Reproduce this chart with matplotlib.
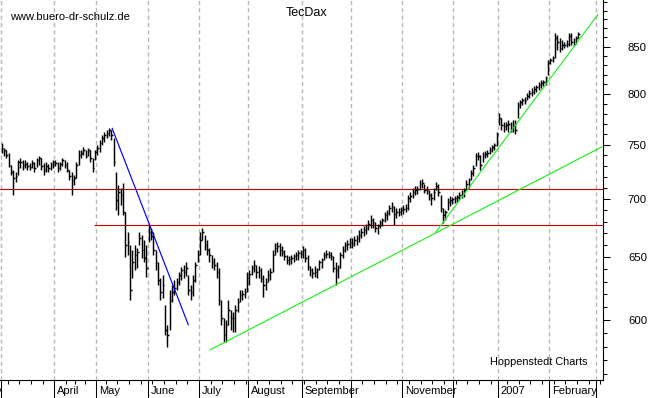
import numpy as np
import pandas as pd
import matplotlib
matplotlib.use("Agg")
import matplotlib.pyplot as plt
from matplotlib.transforms import blended_transform_factory, ScaledTranslation
from matplotlib.ticker import FixedLocator, NullFormatter, FixedFormatter

plt.rcParams['font.family'] = ['Liberation Sans', 'DejaVu Sans']

# ---------------- data (TecDax daily bars, Mar 2006 - Feb 2007) ----------------
highs = [
    751.7, 747.0, 745.1, 742.3, 731.0, 726.3, 724.5, 735.6, 737.5, 735.6,
    735.6, 733.7, 732.8, 735.6, 733.7, 737.5, 739.4, 737.5, 732.8, 733.7,
    731.9, 733.7, 735.6, 735.6, 733.7, 733.7, 737.5, 735.6, 733.7, 726.3,
    724.5, 721.7, 733.7, 745.1, 745.1, 748.0, 745.1, 747.0, 745.1, 737.5,
    745.1, 749.8, 754.6, 759.4, 762.4, 764.3, 766.2, 764.3, 756.5, 724.5,
    712.6, 709.9, 714.4, 688.6, 671.2, 660.2, 656.0, 660.2, 657.7, 671.2,
    668.7, 664.4, 660.2, 677.2, 674.6, 671.2, 656.0, 646.1, 633.0, 635.5,
    611.6, 596.2, 623.4, 627.4, 631.4, 633.0, 637.9, 642.0, 643.6, 646.1,
    635.5, 627.4, 635.5, 646.1, 656.0, 671.2, 674.6, 668.7, 664.4, 657.7,
    651.8, 649.4, 646.1, 641.1, 615.5, 601.5, 600.0, 615.5, 607.7, 606.2,
    611.6, 617.1, 623.4, 623.4, 625.0, 637.9, 639.5, 643.6, 647.7, 643.6,
    642.8, 641.1, 635.5, 633.0, 639.5, 641.1, 656.0, 661.9, 662.7, 661.9,
    659.4, 656.0, 651.8, 651.0, 651.8, 652.7, 654.3, 656.0, 656.0, 659.4,
    657.7, 651.8, 642.8, 641.1, 642.8, 641.1, 647.7, 649.4, 654.3, 656.0,
    655.2, 654.3, 651.0, 646.1, 643.6, 654.3, 659.4, 662.7, 664.4, 666.1,
    666.1, 667.8, 668.7, 672.9, 674.6, 676.3, 678.1, 681.5, 685.9, 683.3,
    679.8, 678.1, 681.5, 683.3, 688.6, 690.3, 694.8, 697.4, 693.9, 692.1,
    692.1, 693.0, 694.8, 695.6, 703.6, 706.3, 709.9, 711.7, 711.7, 717.1,
    718.0, 713.5, 711.7, 708.1, 705.4, 709.9, 715.3, 713.5, 703.6, 692.1,
    690.3, 700.9, 702.7, 701.8, 702.7, 703.6, 706.3, 708.1, 709.9, 717.1,
    719.0, 726.3, 731.0, 742.3, 743.2, 740.4, 743.2, 744.2, 745.1, 748.0,
    749.8, 751.7, 762.4, 781.0, 776.0, 772.1, 772.1, 774.1, 772.1, 774.1,
    774.1, 792.1, 794.1, 796.2, 797.2, 801.3, 804.3, 806.3, 808.4, 809.4,
    812.5, 814.6, 814.6, 818.8, 835.7, 837.8, 839.9, 864.9, 862.7, 859.3,
    857.1, 855.0, 857.1, 864.9, 864.9, 859.3, 861.6, 866.0,
]
lows = [
    742.3, 739.4, 737.5, 729.1, 721.7, 703.6, 715.3, 721.7, 728.2, 726.3,
    728.2, 726.3, 726.3, 728.2, 724.5, 729.1, 731.0, 726.3, 721.7, 724.5,
    724.5, 726.3, 728.2, 730.0, 724.5, 726.3, 730.0, 728.2, 724.5, 717.1,
    703.6, 712.6, 719.0, 731.0, 737.5, 740.4, 737.5, 739.4, 733.7, 724.5,
    735.6, 740.4, 743.2, 749.8, 752.7, 756.5, 758.5, 754.6, 730.0, 690.3,
    685.9, 694.8, 685.9, 650.2, 651.8, 615.5, 633.0, 639.5, 641.1, 660.2,
    649.4, 646.1, 633.8, 662.7, 664.4, 651.8, 639.5, 627.4, 615.5, 617.1,
    588.6, 579.7, 592.4, 613.9, 619.5, 623.4, 627.4, 631.4, 633.0, 634.6,
    619.5, 615.5, 618.7, 629.8, 646.1, 651.8, 664.4, 656.0, 651.8, 646.1,
    641.1, 639.5, 633.0, 611.6, 596.2, 583.4, 583.4, 596.2, 592.4, 590.9,
    590.9, 606.2, 613.9, 615.5, 617.1, 621.8, 627.4, 635.5, 637.9, 633.0,
    633.0, 629.8, 617.9, 623.4, 629.8, 631.4, 637.9, 651.8, 654.3, 651.0,
    651.0, 647.7, 644.4, 643.6, 644.4, 646.1, 647.7, 647.7, 649.4, 649.4,
    646.1, 639.5, 634.6, 633.0, 633.8, 633.0, 639.5, 641.1, 647.7, 649.4,
    649.4, 647.7, 637.9, 627.4, 633.0, 641.1, 649.4, 654.3, 656.0, 657.7,
    657.7, 659.4, 660.2, 662.7, 666.1, 667.8, 669.5, 672.9, 674.6, 674.6,
    671.2, 669.5, 674.6, 676.3, 679.8, 681.5, 685.9, 688.6, 677.2, 683.3,
    685.0, 685.9, 686.8, 688.6, 690.3, 697.4, 700.9, 703.6, 704.5, 708.1,
    709.9, 705.4, 704.5, 699.1, 694.8, 699.1, 708.1, 702.7, 688.6, 678.9,
    681.5, 690.3, 693.9, 695.6, 696.5, 697.4, 699.1, 700.9, 701.8, 708.1,
    709.9, 717.1, 720.8, 730.0, 735.6, 726.3, 733.7, 737.5, 738.5, 741.3,
    743.2, 745.1, 748.9, 769.2, 764.3, 762.4, 764.3, 762.4, 762.4, 762.4,
    760.4, 776.0, 786.0, 789.1, 790.1, 794.1, 796.2, 798.2, 800.3, 802.3,
    804.3, 806.3, 808.4, 809.4, 819.9, 831.4, 833.6, 837.8, 846.4, 844.2,
    846.4, 848.5, 849.6, 850.7, 851.7, 850.7, 852.8, 859.3,
]
closes = [
    747.0, 745.1, 740.4, 731.0, 724.5, 719.0, 720.8, 733.7, 733.7, 731.0,
    731.9, 730.0, 729.1, 732.8, 728.2, 735.6, 737.5, 730.0, 726.3, 730.0,
    728.2, 731.0, 733.7, 732.8, 728.2, 731.9, 735.6, 731.0, 726.3, 720.8,
    717.1, 719.0, 731.0, 740.4, 742.3, 745.1, 739.4, 745.1, 737.5, 728.2,
    743.2, 747.0, 751.7, 756.5, 759.4, 761.4, 764.3, 759.4, 733.7, 699.1,
    706.3, 703.6, 688.6, 660.2, 662.7, 623.4, 646.1, 651.8, 654.3, 666.1,
    656.0, 649.4, 641.1, 671.2, 667.8, 656.0, 646.1, 631.4, 621.8, 627.4,
    592.4, 588.6, 615.5, 621.8, 625.0, 629.8, 635.5, 639.5, 637.9, 641.1,
    623.4, 621.8, 631.4, 643.6, 651.8, 664.4, 671.2, 660.2, 656.0, 651.8,
    646.1, 643.6, 637.9, 615.5, 601.5, 588.6, 596.2, 607.7, 601.5, 601.5,
    607.7, 613.9, 619.5, 620.3, 621.8, 633.0, 636.3, 641.1, 643.6, 637.9,
    639.5, 633.0, 627.4, 629.8, 635.5, 637.9, 651.8, 657.7, 659.4, 656.0,
    654.3, 651.0, 647.7, 648.5, 649.4, 651.0, 651.8, 653.5, 652.7, 656.0,
    649.4, 642.8, 639.5, 637.1, 637.9, 639.5, 646.1, 647.7, 651.8, 652.7,
    651.8, 651.0, 641.1, 639.5, 641.1, 651.8, 656.0, 660.2, 661.0, 662.7,
    661.9, 664.4, 666.1, 668.7, 671.2, 672.9, 674.6, 678.1, 681.5, 679.8,
    674.6, 676.3, 678.9, 681.5, 685.9, 687.7, 692.1, 693.9, 686.8, 688.6,
    688.6, 690.3, 691.2, 692.1, 700.9, 702.7, 706.3, 708.1, 709.0, 713.5,
    714.4, 708.1, 708.1, 703.6, 700.9, 706.3, 711.7, 706.3, 692.1, 685.9,
    688.6, 697.4, 699.1, 700.0, 700.9, 701.8, 703.6, 704.5, 708.1, 713.5,
    717.1, 723.5, 728.2, 739.4, 739.4, 731.0, 740.4, 741.3, 742.3, 745.1,
    748.0, 749.8, 760.4, 776.0, 769.2, 768.2, 769.2, 770.2, 766.2, 768.2,
    764.3, 789.1, 792.1, 794.1, 793.1, 798.2, 801.3, 802.3, 805.3, 807.4,
    809.4, 811.5, 812.5, 816.7, 832.5, 835.7, 837.8, 859.3, 855.0, 848.5,
    851.7, 851.7, 852.8, 861.6, 855.0, 852.8, 859.3, 863.8,
]

# trading calendar (Xetra holidays removed)
holidays = ['2006-04-14', '2006-04-17', '2006-05-01',
            '2006-12-25', '2006-12-26', '2007-01-01']
first_day = '2006-03-01'

# month labels shown on the x axis (others are suppressed by overlap)
label_months = ['2006-02', '2006-04', '2006-05', '2006-06', '2006-07', '2006-08',
                '2006-09', '2006-11', '2007-01', '2007-02']
label_texts = ['February', 'April', 'May', 'June', 'July', 'August',
               'September', 'November', '2007', 'February']

# horizontal support / resistance levels
resistance_level = 708.7
support_level = 677.0
support_start_day = 39.5

# trend lines: (trading-day index, price)
blue_trend_days = [47.3, 79.9]
blue_trend_prices = [765.9, 596.4]
green_long_days = [89.2, 257.1]
green_long_prices = [577.5, 748.0]
green_steep_days = [185.9, 255.4]
green_steep_prices = [670.9, 885.4]

y_major = [600, 650, 700, 750, 800, 850]
y_minor = [v for v in range(560, 910, 10) if v not in y_major]

# ---------------- figure ----------------
W, H, DPI = 650, 398, 100
fig = plt.figure(figsize=(W / DPI, H / DPI), dpi=DPI, facecolor='white')
ax = fig.add_axes([0, 18 / H, 602.5 / W, 380 / H])
ax.set_facecolor('white')

cal = pd.bdate_range('2006-01-25', '2007-03-15')
cal = cal[~cal.isin(pd.to_datetime(holidays))]
origin = cal.get_loc(pd.Timestamp(first_day))
cal_idx = np.arange(len(cal)) - origin

x = np.arange(len(closes))
xmin, xmax = -0.77, 257.4

# month starts
per = cal.to_period('M')
month_first = {}
for p, k in zip(per, cal_idx):
    key = str(p)
    if key not in month_first:
        month_first[key] = k
month_pos = [month_first[m] - 0.5 for m in month_first if xmin < month_first[m] - 0.5 < xmax]

# weekly minor ticks (first trading day of each week)
wk = cal.to_period('W')
week_pos = []
seen = set()
for w, k in zip(wk, cal_idx):
    if w not in seen:
        seen.add(w)
        pos = k - 0.5
        if xmin < pos < xmax and all(abs(pos - m) > 0.6 for m in month_pos):
            week_pos.append(pos)

# grid
for m in month_pos:
    ax.axvline(m, color='#b8b8b8', lw=1.0, dashes=(3, 2.3), zorder=0)

# reference lines
ax.axhline(resistance_level, color='#cc0000', lw=0.8, zorder=1)
ax.hlines(support_level, support_start_day, xmax, color='#cc0000', lw=0.8, zorder=1)

# price bars
ax.vlines(x, lows, highs, color='black', lw=1.05, zorder=3)
ax.hlines(closes, x, x + 0.7, color='black', lw=1.05, zorder=3)

# trend lines
ax.plot(blue_trend_days, blue_trend_prices, color='#0000ff', lw=0.85, zorder=4)
ax.plot(green_long_days, green_long_prices, color='#22ee22', lw=0.85, zorder=4)
ax.plot(green_steep_days, green_steep_prices, color='#22ee22', lw=0.85, zorder=4)

ax.set_yscale('log')
ax.set_ylim(555.8, 902)
ax.set_xlim(xmin, xmax)

# y axis on the right
ax.yaxis.tick_right()
ax.yaxis.set_major_locator(FixedLocator(y_major))
ax.yaxis.set_major_formatter(FixedFormatter([str(v) for v in y_major]))
ax.yaxis.set_minor_locator(FixedLocator(y_minor))
ax.yaxis.set_minor_formatter(NullFormatter())
ax.tick_params(axis='y', which='major', direction='out', length=5.3, width=0.75,
               pad=13, labelsize=8.2, colors='black')
ax.tick_params(axis='y', which='minor', direction='out', length=2.6, width=0.75)
for lab in ax.get_yticklabels():
    lab.set_horizontalalignment('left')

# x axis ticks
ax.xaxis.set_major_locator(FixedLocator(month_pos))
ax.xaxis.set_major_formatter(NullFormatter())
ax.xaxis.set_minor_locator(FixedLocator(week_pos))
ax.tick_params(axis='x', which='major', direction='out', length=13.5, width=0.75)
ax.tick_params(axis='x', which='minor', direction='out', length=3.0, width=0.75)

for s in ['left', 'top']:
    ax.spines[s].set_visible(False)
for s in ['right', 'bottom']:
    ax.spines[s].set_linewidth(0.8)
    ax.spines[s].set_color('black')

# month labels (the first one starts left of the chart and is clipped, as in the original)
trans = blended_transform_factory(ax.transData, ax.transAxes)
off = ScaledTranslation(3 / DPI, -5.5 / DPI, fig.dpi_scale_trans)
for m, t in zip(label_months, label_texts):
    ax.text(month_first[m] - 0.5, 0, t, transform=trans + off, ha='left', va='top',
            fontsize=8, color='black', clip_on=False)

# annotations
fig.text(10 / W, 1 - 17 / H, 'www.buero-dr-schulz.de', ha='left', va='center',
         fontsize=8, color='black')
fig.text(307 / W, 1 - 13 / H, 'TecDax', ha='center', va='center',
         fontsize=9, color='black')
ax.text(490 / 602.5, (380 - 362) / 380, 'Hoppenstedt Charts', transform=ax.transAxes,
        ha='left', va='center', fontsize=7.8, color='black')

fig.savefig('out.png', dpi=DPI, facecolor='white')
